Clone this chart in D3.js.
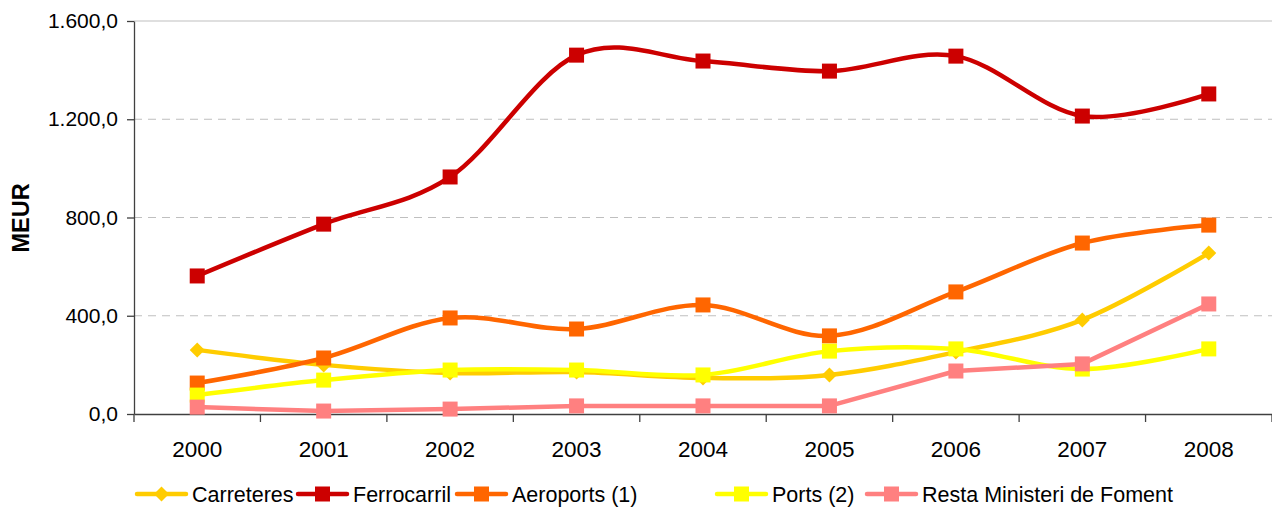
<!DOCTYPE html>
<html>
<head>
<meta charset="utf-8">
<script src="https://cdn.jsdelivr.net/npm/d3@7"></script>
<style>
  body { margin: 0; background: #fff; }
  text { font-family: Arial, "Liberation Sans", sans-serif; fill: #000; }
</style>
</head>
<body>
<svg id="chart" width="1272" height="513"></svg>
<script>
// data (MEUR)
const years = ["2000", "2001", "2002", "2003", "2004", "2005", "2006", "2007", "2008"];
const carreteres = [261, 200, 167, 171, 147, 159, 252, 383, 655];
const ferrocarril = [562, 773, 965, 1461, 1437, 1396, 1457, 1213, 1303];
const aeroports = [126, 228, 391, 346, 444, 318, 497, 696, 769];
const ports = [77, 138, 179, 179, 159, 256, 265, 183, 265];
const resta = [28, 12, 20, 33, 33, 33, 175, 204, 448];
const yTicks = [0, 400, 800, 1200, 1600];

const series = [
  {name: "Carreteres", values: carreteres, color: "#FFCC00", marker: "diamond", smooth: true},
  {name: "Ferrocarril", values: ferrocarril, color: "#CC0000", marker: "square", smooth: true},
  {name: "Aeroports (1)", values: aeroports, color: "#FF6600", marker: "square", smooth: true},
  {name: "Ports (2)", values: ports, color: "#FFFF00", marker: "square", smooth: true},
  {name: "Resta Ministeri de Foment", values: resta, color: "#FF8080", marker: "square", smooth: false}
];

const svg = d3.select("#chart");
const margin = {left: 134, right: 0, top: 21, bottom: 99};
const width = 1272, height = 513;

const x = d3.scaleBand()
    .domain(years)
    .range([margin.left, width - margin.right]);
const y = d3.scaleLinear()
    .domain([0, 1600])
    .range([height - margin.bottom, margin.top]);

const fmt = d => d3.format(",.1f")(d).replace(/,/g, "#").replace(".", ",").replace(/#/g, ".");

// gridlines
svg.append("g")
  .selectAll("line")
  .data(yTicks.filter(d => d > 0))
  .join("line")
    .attr("x1", margin.left)
    .attr("x2", width - margin.right)
    .attr("y1", d => y(d))
    .attr("y2", d => y(d))
    .attr("stroke", "#bfbfbf")
    .attr("stroke-width", 1)
    .attr("stroke-dasharray", d => d === 1600 ? null : "8,6");

// y axis
const yAxis = d3.axisLeft(y)
    .tickValues(yTicks)
    .tickFormat(fmt)
    .tickSize(7)
    .tickPadding(9)
    .tickSizeOuter(0);
const gY = svg.append("g")
    .attr("transform", "translate(" + margin.left + ",0)")
    .call(yAxis);
gY.select(".domain").attr("stroke", "#404040").attr("stroke-width", 1.3);
gY.selectAll(".tick line").attr("stroke", "#404040").attr("stroke-width", 1.3);
gY.selectAll(".tick text").style("font-size", "21px").attr("fill", "#000");

// x axis
const xAxis = d3.axisBottom(x).tickSize(0).tickPadding(27);
const gX = svg.append("g")
    .attr("transform", "translate(0," + y(0) + ")")
    .call(xAxis);
gX.select(".domain").attr("stroke", "#404040").attr("stroke-width", 1.3);
gX.selectAll(".tick text").style("font-size", "22.5px").attr("fill", "#000");

// category boundary ticks
const bounds = d3.range(years.length + 1).map(i => margin.left + i * x.step());
gX.append("g")
  .selectAll("line")
  .data(bounds)
  .join("line")
    .attr("x1", d => d)
    .attr("x2", d => d)
    .attr("y1", 0)
    .attr("y2", 8)
    .attr("stroke", "#404040")
    .attr("stroke-width", 1.3);

// axis title
svg.append("text")
    .attr("transform", "translate(29," + 218 + ") rotate(-90)")
    .attr("text-anchor", "middle")
    .style("font-size", "23.5px")
    .style("font-weight", "bold")
    .text("MEUR");

const cx = i => x(years[i]) + x.bandwidth() / 2;

const lineSmooth = d3.line()
    .x((d, i) => cx(i))
    .y(d => y(d))
    .curve(d3.curveCardinal.tension(0));
const lineStraight = d3.line()
    .x((d, i) => cx(i))
    .y(d => y(d));

function drawMarker(g, type, color, px, py) {
  if (type === "diamond") {
    const s = 7.5;
    g.append("path")
      .attr("d", `M${px},${py - s}L${px + s},${py}L${px},${py + s}L${px - s},${py}Z`)
      .attr("fill", color);
  } else {
    const s = 15;
    g.append("rect")
      .attr("x", px - s / 2)
      .attr("y", py - s / 2)
      .attr("width", s)
      .attr("height", s)
      .attr("fill", color);
  }
}

const plot = svg.append("g");
series.forEach(s => {
  const g = plot.append("g");
  g.append("path")
    .attr("d", (s.smooth ? lineSmooth : lineStraight)(s.values))
    .attr("fill", "none")
    .attr("stroke", s.color)
    .attr("stroke-width", 4.5)
    .attr("stroke-linejoin", "round")
    .attr("stroke-linecap", "round");
  s.values.forEach((v, i) => drawMarker(g, s.marker, s.color, cx(i), y(v)));
});

// legend
const legendX = [137, 298, 457, 717, 867];
const legend = svg.append("g");
series.forEach((s, i) => {
  const lx = legendX[i], ly = 494;
  const g = legend.append("g");
  g.append("line")
    .attr("x1", lx)
    .attr("x2", lx + 49)
    .attr("y1", ly)
    .attr("y2", ly)
    .attr("stroke", s.color)
    .attr("stroke-width", 4.5)
    .attr("stroke-linecap", "round");
  drawMarker(g, s.marker, s.color, lx + 24.5, ly);
  g.append("text")
    .attr("x", lx + 55)
    .attr("y", ly)
    .attr("dy", "0.36em")
    .style("font-size", "21.5px")
    .text(s.name);
});
</script>
</body>
</html>
